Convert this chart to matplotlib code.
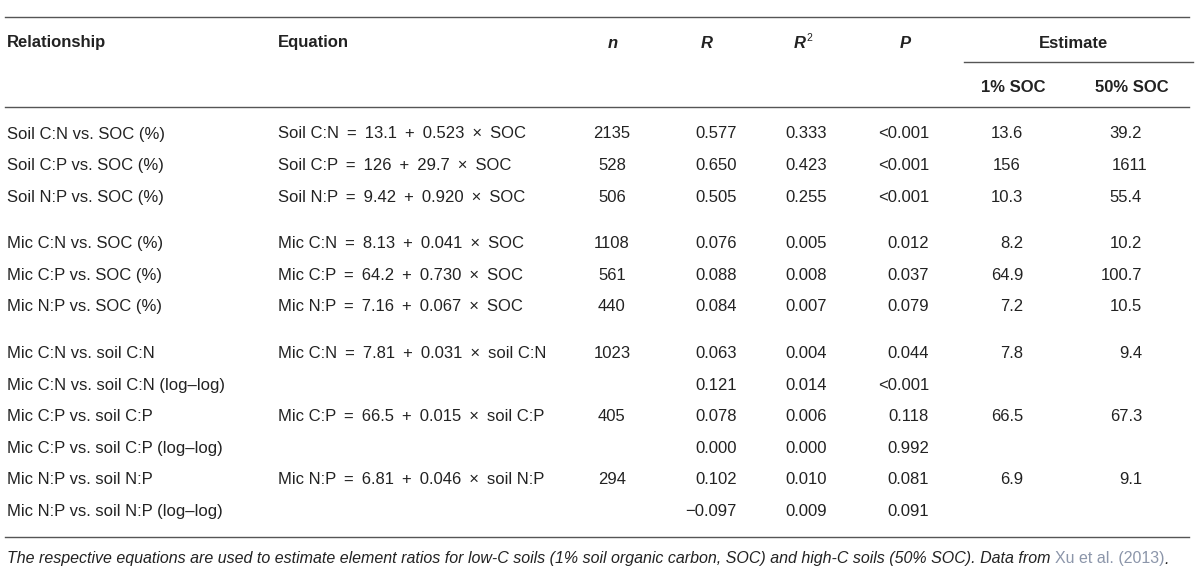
import matplotlib
matplotlib.use("Agg")
import matplotlib.pyplot as plt

plt.rcParams['font.family'] = ['Liberation Sans', 'DejaVu Sans']

# table content
relationships = [
    "Soil C:N vs. SOC (%)", "Soil C:P vs. SOC (%)", "Soil N:P vs. SOC (%)",
    "Mic C:N vs. SOC (%)", "Mic C:P vs. SOC (%)", "Mic N:P vs. SOC (%)",
    "Mic C:N vs. soil C:N", "Mic C:N vs. soil C:N (log\u2013log)",
    "Mic C:P vs. soil C:P", "Mic C:P vs. soil C:P (log\u2013log)",
    "Mic N:P vs. soil N:P", "Mic N:P vs. soil N:P (log\u2013log)",
]
equations = [
    "Soil C:N = 13.1 + 0.523 \u00d7 SOC", "Soil C:P = 126 + 29.7 \u00d7 SOC",
    "Soil N:P = 9.42 + 0.920 \u00d7 SOC",
    "Mic C:N = 8.13 + 0.041 \u00d7 SOC", "Mic C:P = 64.2 + 0.730 \u00d7 SOC",
    "Mic N:P = 7.16 + 0.067 \u00d7 SOC",
    "Mic C:N = 7.81 + 0.031 \u00d7 soil C:N", "",
    "Mic C:P = 66.5 + 0.015 \u00d7 soil C:P", "",
    "Mic N:P = 6.81 + 0.046 \u00d7 soil N:P", "",
]
n_vals = ["2135", "528", "506", "1108", "561", "440", "1023", "", "405", "", "294", ""]
r_vals = ["0.577", "0.650", "0.505", "0.076", "0.088", "0.084",
          "0.063", "0.121", "0.078", "0.000", "0.102", "\u22120.097"]
r2_vals = ["0.333", "0.423", "0.255", "0.005", "0.008", "0.007",
           "0.004", "0.014", "0.006", "0.000", "0.010", "0.009"]
p_vals = ["<0.001", "<0.001", "<0.001", "0.012", "0.037", "0.079",
          "0.044", "<0.001", "0.118", "0.992", "0.081", "0.091"]
est_1 = ["13.6", "156", "10.3", "8.2", "64.9", "7.2", "7.8", "", "66.5", "", "6.9", ""]
est_50 = ["39.2", "1611", "55.4", "10.2", "100.7", "10.5", "9.4", "", "67.3", "", "9.1", ""]
left_aligned_est = ["156", "1611"]
group_sizes = [3, 3, 6]

caption_main = ("The respective equations are used to estimate element ratios for low-C soils "
                "(1% soil organic carbon, SOC) and high-C soils (50% SOC). Data from ")
caption_ref = "Xu et al. (2013)"

W, H = 1200, 573
fig = plt.figure(figsize=(W / 100, H / 100), dpi=100)
ax = fig.add_axes([0, 0, 1, 1])
ax.set_xlim(0, W)
ax.set_ylim(H, 0)
ax.axis('off')

txt = '#222222'
rule = '#555555'
fs = 12.0


def spaced(eq):
    # a bit more room round the operators, like the typeset original
    for op in ("=", "+", "\u00d7"):
        eq = eq.replace(" " + op + " ", " \u2009" + op + "\u2009 ")
    return eq


# rules
ax.plot([5, 1189], [17, 17], color=rule, lw=1.0)
ax.plot([964, 1193], [62, 62], color=rule, lw=1.0)
ax.plot([5, 1189], [107, 107], color=rule, lw=1.0)
ax.plot([5, 1189], [537, 537], color=rule, lw=1.0)

# header
hy, sy = 43, 87
ax.text(7, hy, "Relationship", fontsize=fs, weight='bold', color=txt, va='center')
ax.text(278, hy, "Equation", fontsize=fs, weight='bold', color=txt, va='center')
ax.text(613, hy, "n", fontsize=fs, weight='bold', style='italic', color=txt, va='center', ha='center')
ax.text(707, hy, "R", fontsize=fs, weight='bold', style='italic', color=txt, va='center', ha='center')
ax.text(800, hy, "R", fontsize=fs, weight='bold', style='italic', color=txt, va='center', ha='center')
ax.text(806, hy - 5, "2", fontsize=fs * 0.62, color=txt, va='center', ha='left')
ax.text(905, hy, "P", fontsize=fs, weight='bold', style='italic', color=txt, va='center', ha='center')
ax.text(1074, hy, "Estimate", fontsize=fs, weight='bold', color=txt, va='center', ha='center')
ax.text(1013, sy, "1% SOC", fontsize=fs, weight='bold', color=txt, va='center', ha='center')
ax.text(1132, sy, "50% SOC", fontsize=fs, weight='bold', color=txt, va='center', ha='center')

# row positions
pitch, gap = 31.6, 46.5
ys = []
y = 134
for g, size in enumerate(group_sizes):
    for k in range(size):
        ys.append(y)
        y += pitch
    y += gap - pitch

for i, y in enumerate(ys):
    ax.text(7, y, relationships[i], fontsize=fs, color=txt, va='center')
    ax.text(278, y, spaced(equations[i]), fontsize=fs, color=txt, va='center')
    ax.text(612, y, n_vals[i], fontsize=fs, color=txt, va='center', ha='center')
    ax.text(737, y, r_vals[i], fontsize=fs, color=txt, va='center', ha='right')
    ax.text(827, y, r2_vals[i], fontsize=fs, color=txt, va='center', ha='right')
    ax.text(929, y, p_vals[i], fontsize=fs, color=txt, va='center', ha='right')
    for val, xl, xr in ((est_1[i], 993, 1023), (est_50[i], 1112, 1142)):
        if val in left_aligned_est:
            ax.text(xl, y, val, fontsize=fs, color=txt, va='center', ha='left')
        else:
            ax.text(xr, y, val, fontsize=fs, color=txt, va='center', ha='right')

# caption
cfs = 11.55
t1 = ax.text(7, 559, caption_main, fontsize=cfs, style='italic', color=txt, va='center')
t2 = ax.annotate(caption_ref, xycoords=t1, xy=(1, 0), va='bottom', fontsize=cfs,
                 color='#8c96aa')
ax.annotate(".", xycoords=t2, xy=(1, 0), va='bottom', fontsize=cfs, style='italic', color=txt)

fig.savefig("out.png", dpi=100)
